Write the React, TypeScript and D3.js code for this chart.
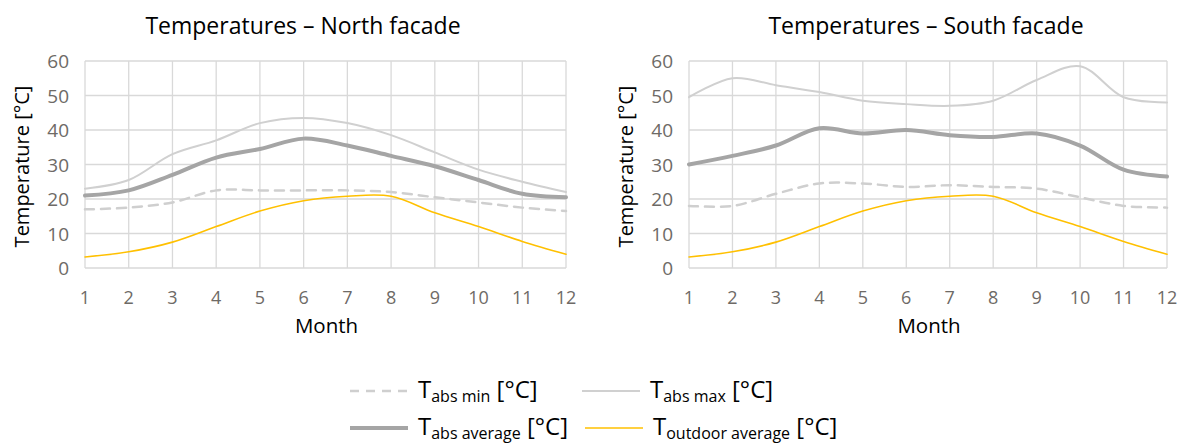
import React from "react";
import * as d3 from "d3";

const months = [1, 2, 3, 4, 5, 6, 7, 8, 9, 10, 11, 12];
const yTicks = [0, 10, 20, 30, 40, 50, 60];

const outdoorAvg = [3.2, 4.7, 7.5, 12, 16.5, 19.5, 20.8, 20.8, 16, 12, 7.7, 4];

const northMin = [17, 17.5, 19, 22.5, 22.5, 22.5, 22.5, 22, 20.5, 19, 17.5, 16.5];
const northMax = [23, 25.5, 33, 37, 42, 43.5, 42, 38.5, 33.5, 28.5, 25, 22];
const northAvg = [21, 22.5, 27, 32, 34.5, 37.5, 35.5, 32.5, 29.5, 25.5, 21.5, 20.5];

const southMin = [18, 18, 21.5, 24.5, 24.5, 23.5, 24, 23.5, 23, 20.5, 18, 17.5];
const southMax = [49.5, 55, 53, 51, 48.5, 47.5, 47, 48.5, 54.5, 58.5, 49.5, 48];
const southAvg = [30, 32.5, 35.5, 40.5, 39, 40, 38.5, 38, 39, 35.5, 28.5, 26.5];

const FONT = "'Open Sans', 'Liberation Sans', sans-serif";

const styles = {
  min: { stroke: "#cfcfcf", width: 2.5, dash: "9,7" },
  max: { stroke: "#d0d0d0", width: 2, dash: null },
  avg: { stroke: "#a5a5a5", width: 4, dash: null },
  out: { stroke: "#ffc000", width: 1.6, dash: null },
};

type PanelProps = {
  title: string;
  titleX: number;
  left: number;
  right: number;
  min: number[];
  max: number[];
  avg: number[];
};

function Panel({ title, titleX, left, right, min, max, avg }: PanelProps) {
  const top = 61;
  const bottom = 268;
  const x = d3.scaleLinear().domain([1, 12]).range([left, right]);
  const y = d3.scaleLinear().domain([0, 60]).range([bottom, top]);
  const line = d3
    .line<number>()
    .x((_, i) => x(months[i]))
    .y((d) => y(d))
    .curve(d3.curveCatmullRom.alpha(0.5));

  const series = [
    { data: min, s: styles.min },
    { data: max, s: styles.max },
    { data: avg, s: styles.avg },
    { data: outdoorAvg, s: styles.out },
  ];
  const cx = (left + right) / 2;

  return (
    <g>
      <text x={titleX} y={34} fontSize={23} textAnchor="middle" fill="#000" fontFamily={FONT}>
        {title}
      </text>
      {yTicks.map((t) => (
        <line key={"h" + t} x1={left} x2={right} y1={y(t)} y2={y(t)} stroke="#d9d9d9" strokeWidth={1.3} />
      ))}
      {months.map((m) => (
        <line key={"v" + m} x1={x(m)} x2={x(m)} y1={top} y2={bottom} stroke="#d9d9d9" strokeWidth={1.3} />
      ))}
      {yTicks.map((t) => (
        <text key={"yl" + t} x={left - 16} y={y(t) + 7} fontSize={19} textAnchor="end" fill="#6e6a66" fontFamily={FONT}>
          {t}
        </text>
      ))}
      {months.map((m) => (
        <text key={"xl" + m} x={x(m)} y={304} fontSize={18} textAnchor="middle" fill="#6e6a66" fontFamily={FONT}>
          {m}
        </text>
      ))}
      <text
        transform={`translate(${left - 56},${(top + bottom) / 2 + 2}) rotate(-90)`}
        fontSize={20}
        textAnchor="middle"
        fill="#000"
        fontFamily={FONT}
      >
        Temperature [°C]
      </text>
      <text x={cx + 1} y={333} fontSize={20.5} textAnchor="middle" fill="#000" fontFamily={FONT}>
        Month
      </text>
      {series.map((sr, i) => (
        <path
          key={i}
          d={line(sr.data) || ""}
          fill="none"
          stroke={sr.s.stroke}
          strokeWidth={sr.s.width}
          strokeDasharray={sr.s.dash || undefined}
          strokeLinecap="round"
        />
      ))}
    </g>
  );
}

const legendItems = [
  { sub: "abs min", s: styles.min, x: 350, y: 398 },
  { sub: "abs max", s: styles.max, x: 582, y: 398 },
  { sub: "abs average", s: styles.avg, x: 350, y: 435 },
  { sub: "outdoor average", s: styles.out, x: 585, y: 435 },
];

export default function App() {
  return (
    <svg width={1184} height={445} style={{ position: "absolute", left: 0, top: 0, background: "#fff" }}>
      <rect width={1184} height={445} fill="#fff" />
      <Panel title="Temperatures – North facade" titleX={303} left={85} right={566} min={northMin} max={northMax} avg={northAvg} />
      <Panel title="Temperatures – South facade" titleX={926} left={689} right={1167} min={southMin} max={southMax} avg={southAvg} />
      {legendItems.map((it, i) => (
        <g key={i}>
          <line
            x1={it.x}
            x2={it.x + 58}
            y1={it.y - 7}
            y2={it.y - 7}
            stroke={it.s.stroke}
            strokeWidth={it.s.width}
            strokeDasharray={it.s.dash || undefined}
          />
          <text x={it.x + 68} y={it.y} fontSize={24} fill="#000" fontFamily={FONT}>
            T
            <tspan fontSize={16} dy={4}>{it.sub}</tspan>
            <tspan dy={-4}> [°C]</tspan>
          </text>
        </g>
      ))}
    </svg>
  );
}
